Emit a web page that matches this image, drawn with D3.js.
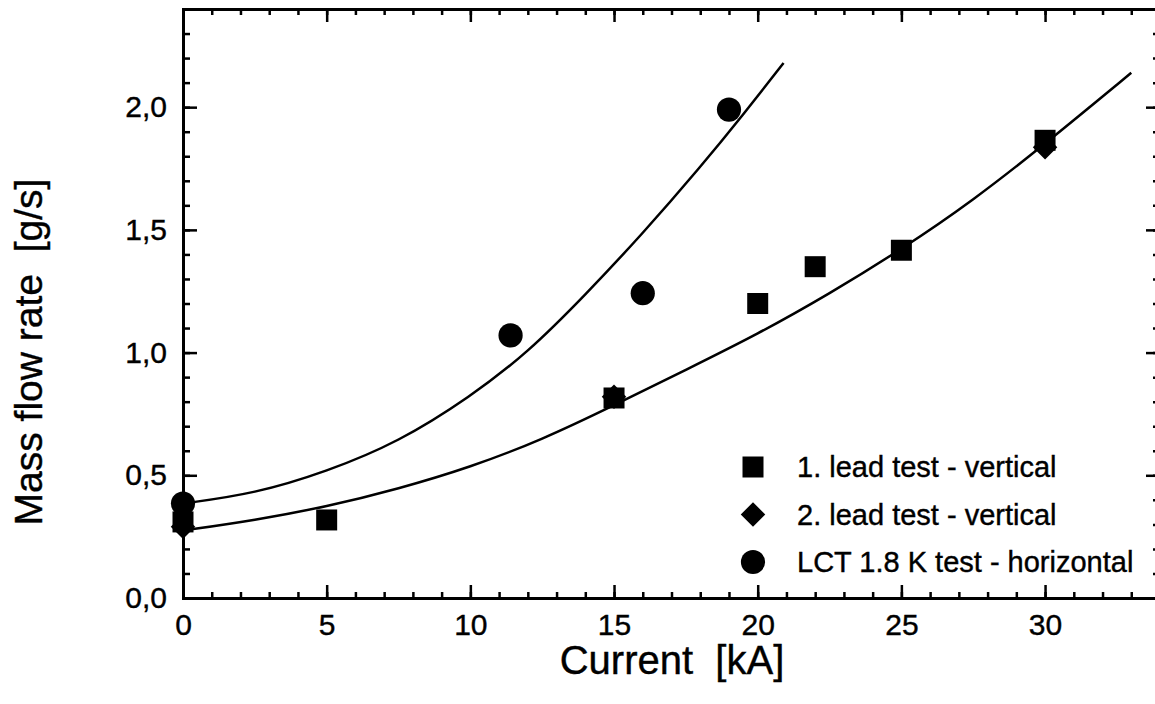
<!DOCTYPE html>
<html>
<head>
<meta charset="utf-8">
<script src="https://cdn.jsdelivr.net/npm/d3@7"></script>
<style>
  body { margin: 0; background: #fff; }
  svg { display: block; }
  text { font-family: "Liberation Sans", Arial, sans-serif; fill: #000; stroke: #000; stroke-width: 0.4px; }
</style>
</head>
<body>
<div id="chart"></div>
<script>
// données
const lead1X = [0, 5, 15, 20, 22, 25, 30];
const lead1Y = [0.31, 0.318, 0.815, 1.20, 1.35, 1.417, 1.865];
const lead2X = [0, 15, 30];
const lead2Y = [0.29, 0.82, 1.837];
const lctX = [0, 11.4, 16, 19];
const lctY = [0.385, 1.07, 1.242, 1.99];

// courbes d'ajustement
const fitLowX = [0, 2.5, 5, 7.5, 10, 12.5, 15, 17.5, 20, 22.5, 25, 27.5, 30, 33];
const fitLowY = [0.275, 0.317, 0.372, 0.445, 0.533, 0.645, 0.785, 0.93, 1.075, 1.24, 1.42, 1.62, 1.85, 2.14];
const fitHighX = [0, 2.5, 5, 7.5, 10, 12, 14, 16, 18, 19.5, 20.9];
const fitHighY = [0.385, 0.425, 0.515, 0.635, 0.82, 1.0, 1.235, 1.485, 1.755, 1.97, 2.18];

const xTicks = [0, 5, 10, 15, 20, 25, 30];
const yTicks = [0, 0.5, 1.0, 1.5, 2.0];
const legendLabels = ["1. lead test - vertical", "2. lead test - vertical", "LCT 1.8 K test - horizontal"];

const W = 1155, H = 704;
const margin = {top: 9, left: 183, right: 1160, bottom: 598};

const svg = d3.select("#chart").append("svg")
  .attr("width", W).attr("height", H);

const x = d3.scaleLinear().domain([0, 34]).range([margin.left, margin.right]);
const y = d3.scaleLinear().domain([0, 2.4]).range([margin.bottom, margin.top]);

const fmt = d => d3.format(".1f")(d).replace(".", ",");

// axes : ticks vers l'intérieur
const minorX = d3.range(0, 35, 1);
const minorY = d3.range(0, 2.41, 0.1);

function axisGroup(axis) {
  const g = svg.append("g").call(axis);
  g.selectAll(".domain").attr("stroke-width", 3);
  g.selectAll(".tick line").attr("stroke-width", 2.5);
  return g;
}

// minor ticks
axisGroup(d3.axisBottom(x).tickValues(minorX).tickSize(-6).tickFormat(""))
  .attr("transform", "translate(0," + margin.bottom + ")");
axisGroup(d3.axisTop(x).tickValues(minorX).tickSize(-6).tickFormat(""))
  .attr("transform", "translate(0," + margin.top + ")");
axisGroup(d3.axisLeft(y).tickValues(minorY).tickSize(-7).tickFormat(""))
  .attr("transform", "translate(" + margin.left + ",0)");
axisGroup(d3.axisRight(y).tickValues(minorY).tickSize(-7).tickFormat(""))
  .attr("transform", "translate(" + margin.right + ",0)");

// major ticks
const xb = axisGroup(d3.axisBottom(x).tickValues(xTicks).tickSize(-13).tickPadding(16).tickFormat(d3.format("d")))
  .attr("transform", "translate(0," + margin.bottom + ")");
xb.selectAll("text").attr("font-size", 30).attr("font-family", null);
axisGroup(d3.axisTop(x).tickValues(xTicks).tickSize(-13).tickFormat(""))
  .attr("transform", "translate(0," + margin.top + ")");
const yl = axisGroup(d3.axisLeft(y).tickValues(yTicks).tickSize(-14).tickPadding(16).tickFormat(fmt))
  .attr("transform", "translate(" + margin.left + ",0)");
yl.selectAll("text").attr("font-size", 30).attr("font-family", null);
axisGroup(d3.axisRight(y).tickValues(yTicks).tickSize(-14).tickFormat(""))
  .attr("transform", "translate(" + margin.right + ",0)");
svg.selectAll("g").attr("font-family", null);

// titres des axes
svg.append("text")
  .attr("x", 672).attr("y", 674)
  .attr("text-anchor", "middle")
  .attr("font-size", 40)
  .text("Current\u00A0\u00A0[kA]");
svg.append("text")
  .attr("transform", "translate(42,352) rotate(-90)")
  .attr("text-anchor", "middle")
  .attr("font-size", 39)
  .text("Mass flow rate\u00A0\u00A0[g/s]");

// courbes
const line = d3.line().x(d => x(d[0])).y(d => y(d[1])).curve(d3.curveBasis);
[[fitLowX, fitLowY], [fitHighX, fitHighY]].forEach(([xs, ys]) => {
  svg.append("path")
    .datum(xs.map((v, i) => [v, ys[i]]))
    .attr("d", line)
    .attr("fill", "none")
    .attr("stroke", "#000")
    .attr("stroke-width", 2.5);
});

// symboles
const sq = d3.symbol().type(d3.symbolSquare).size(441);
const dia = d3.symbol().type(d3.symbolSquare).size(300);
const circ = d3.symbol().type(d3.symbolCircle).size(460);

function points(xs, ys, sym, rot) {
  svg.append("g").selectAll("path")
    .data(xs.map((v, i) => [v, ys[i]]))
    .join("path")
    .attr("d", sym)
    .attr("transform", d => "translate(" + x(d[0]) + "," + y(d[1]) + ")" + (rot ? " rotate(45)" : ""))
    .attr("fill", "#000");
}
points(lead1X, lead1Y, sq, false);
points(lead2X, lead2Y, dia, true);
points(lctX, lctY, circ, false);

// légende
const legend = svg.append("g");
const legSyms = [[sq, false], [dia, true], [circ, false]];
legendLabels.forEach((lab, i) => {
  const cy = 467 + i * 47.5;
  legend.append("path")
    .attr("d", legSyms[i][0])
    .attr("transform", "translate(753," + cy + ")" + (legSyms[i][1] ? " rotate(45)" : ""))
    .attr("fill", "#000");
  legend.append("text")
    .attr("x", 797).attr("y", cy + 10)
    .attr("font-size", 29)
    .text(lab);
});
</script>
</body>
</html>
